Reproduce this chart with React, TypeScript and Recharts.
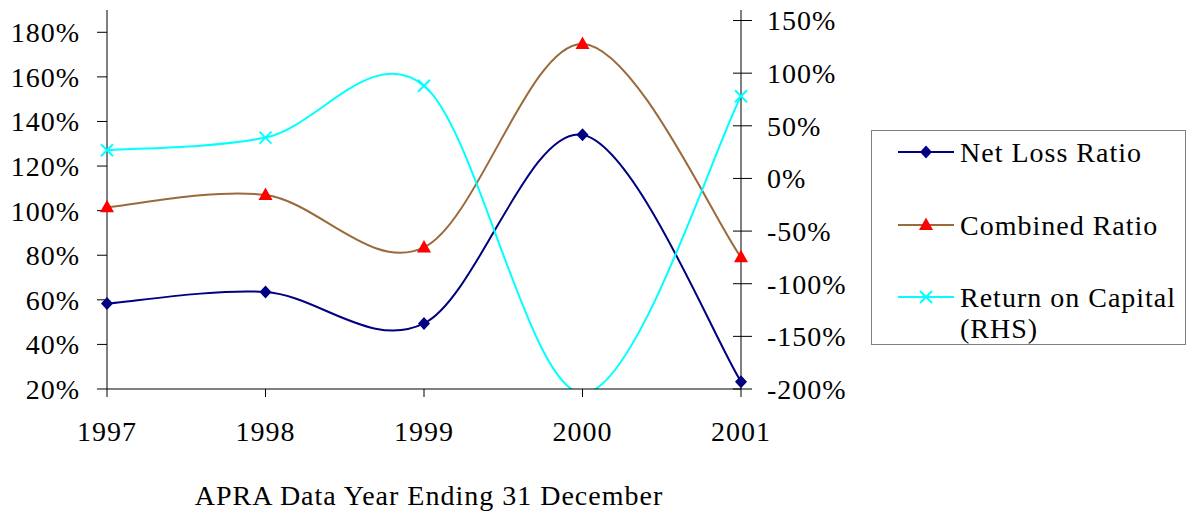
import React from "react";
import { LineChart, Line, XAxis, YAxis, Legend } from "recharts";

const years = ["1997", "1998", "1999", "2000", "2001"];
// left axis, % of premium
const netLossRatio = [58.3, 63.5, 49.4, 134.0, 23.3];
const combinedRatio = [101.5, 107.0, 83.5, 174.8, 79.1];
// right axis, %
const returnOnCapital = [26.8, 38.8, 88.1, -204, 78.0];

const leftTicks = [20, 40, 60, 80, 100, 120, 140, 160, 180];
const rightTicks = [-200, -150, -100, -50, 0, 50, 100, 150];

const data = years.map((year, i) => ({
  year,
  netLoss: netLossRatio[i],
  combined: combinedRatio[i],
  roc: returnOnCapital[i],
}));

const FONT = '"Liberation Serif", "Times New Roman", serif';
const NAVY = "#000080";
const BROWN = "#9B6A3C";
const CYAN = "#00FFFF";
const RED = "#FF0000";

// Catmull-Rom style smoothing, close to what spreadsheet "smoothed lines" do
const smoothCurve = (context: any) => {
  let pts: [number, number][] = [];
  return {
    areaStart() {},
    areaEnd() {},
    lineStart() {
      pts = [];
    },
    point(x: number, y: number) {
      pts.push([+x, +y]);
    },
    lineEnd() {
      const n = pts.length;
      if (!n) return;
      context.moveTo(pts[0][0], pts[0][1]);
      for (let i = 0; i < n - 1; i++) {
        const p0 = pts[Math.max(i - 1, 0)];
        const p1 = pts[i];
        const p2 = pts[i + 1];
        const p3 = pts[Math.min(i + 2, n - 1)];
        context.bezierCurveTo(
          p1[0] + (p2[0] - p0[0]) / 6,
          p1[1] + (p2[1] - p0[1]) / 6,
          p2[0] - (p3[0] - p1[0]) / 6,
          p2[1] - (p3[1] - p1[1]) / 6,
          p2[0],
          p2[1]
        );
      }
    },
  };
};

const diamond = (cx: number, cy: number, key?: any) => (
  <path
    key={key}
    d={`M${cx},${cy - 6.5}L${cx + 6},${cy}L${cx},${cy + 6.5}L${cx - 6},${cy}Z`}
    fill={NAVY}
  />
);

const triangle = (cx: number, cy: number, key?: any) => (
  <path
    key={key}
    d={`M${cx},${cy - 7.5}L${cx + 7},${cy + 5}L${cx - 7},${cy + 5}Z`}
    fill={RED}
  />
);

const cross = (cx: number, cy: number, key?: any) => (
  <g key={key} stroke={CYAN} strokeWidth={2}>
    <line x1={cx - 6} y1={cy - 6} x2={cx + 6} y2={cy + 6} />
    <line x1={cx - 6} y1={cy + 6} x2={cx + 6} y2={cy - 6} />
  </g>
);

const RightTick = ({ x, y, payload }: any) => (
  <g>
    <line x1={x - 8} x2={x + 11} y1={y} y2={y} stroke="#000" />
    <text x={x + 26} y={y} dy="0.35em" textAnchor="start" fill="#000" fontSize={28}>
      {`${payload.value}%`}
    </text>
  </g>
);

const legendRows = [
  { label: ["Net Loss Ratio"], color: NAVY, mark: diamond, top: 22 },
  { label: ["Combined Ratio"], color: BROWN, mark: triangle, top: 95 },
  { label: ["Return on Capital", "(RHS)"], color: CYAN, mark: cross, top: 167 },
];

const LegendBox = () => (
  <div
    style={{
      width: 315,
      height: 215,
      boxSizing: "border-box",
      border: "1px solid #808080",
      background: "#fff",
      position: "relative",
      fontFamily: FONT,
      fontSize: 28,
      letterSpacing: "1px",
      color: "#000",
    }}
  >
    {legendRows.map((row) => (
      <React.Fragment key={row.label[0]}>
        <svg
          width={56}
          height={20}
          style={{ position: "absolute", left: 26, top: row.top - 11 }}
        >
          <line x1={0} x2={56} y1={10} y2={10} stroke={row.color} strokeWidth={2} />
          {row.mark(28, 10)}
        </svg>
        {row.label.map((line, j) => (
          <div
            key={line}
            style={{
              position: "absolute",
              left: 88,
              top: row.top - 16 + j * 31,
              lineHeight: "31px",
              whiteSpace: "nowrap",
            }}
          >
            {line}
          </div>
        ))}
      </React.Fragment>
    ))}
  </div>
);

export default function App() {
  return (
    <div
      style={{
        position: "absolute",
        left: 0,
        top: 0,
        background: "#fff",
        fontFamily: FONT,
        letterSpacing: "1px",
      }}
    >
      <LineChart
        width={1188}
        height={513}
        data={data}
        margin={{ top: 10, right: 0, bottom: 0, left: 0 }}
      >
        <XAxis
          dataKey="year"
          interval={0}
          height={124}
          tickSize={8}
          tickMargin={24}
          axisLine={{ stroke: "#000" }}
          tickLine={{ stroke: "#000" }}
          tick={{ fill: "#000", fontSize: 28 }}
          label={{
            value: "APRA Data Year Ending 31 December",
            position: "insideBottom",
            offset: 8,
            dx: 5,
            fill: "#000",
            fontSize: 28,
          }}
        />
        <YAxis
          yAxisId="left"
          orientation="left"
          width={107}
          domain={[20, 190]}
          ticks={leftTicks}
          allowDataOverflow
          tickSize={10}
          tickMargin={17}
          tickFormatter={(v: number) => `${v}%`}
          axisLine={{ stroke: "#000" }}
          tickLine={{ stroke: "#000" }}
          tick={{ fill: "#000", fontSize: 28 }}
        />
        <YAxis
          yAxisId="right"
          orientation="right"
          width={447}
          domain={[-200, 160]}
          ticks={rightTicks}
          allowDataOverflow
          tickSize={0}
          tickMargin={0}
          tickLine={false}
          axisLine={{ stroke: "#000" }}
          tick={<RightTick />}
        />
        <Legend
          layout="horizontal"
          verticalAlign="middle"
          align="center"
          wrapperStyle={{ left: 871, top: 130, width: 315, height: 215 }}
          content={() => <LegendBox />}
        />
        <Line
          yAxisId="left"
          dataKey="netLoss"
          name="Net Loss Ratio"
          type={smoothCurve as any}
          stroke={NAVY}
          strokeWidth={2}
          dot={(p: any) => diamond(p.cx, p.cy, p.index)}
          activeDot={false}
          isAnimationActive={false}
        />
        <Line
          yAxisId="left"
          dataKey="combined"
          name="Combined Ratio"
          type={smoothCurve as any}
          stroke={BROWN}
          strokeWidth={2}
          dot={(p: any) => triangle(p.cx, p.cy, p.index)}
          activeDot={false}
          isAnimationActive={false}
        />
        <Line
          yAxisId="right"
          dataKey="roc"
          name="Return on Capital (RHS)"
          type={smoothCurve as any}
          stroke={CYAN}
          strokeWidth={2}
          dot={(p: any) =>
            p.value < -200 ? <g key={p.index} /> : cross(p.cx, p.cy, p.index)
          }
          activeDot={false}
          isAnimationActive={false}
        />
      </LineChart>
    </div>
  );
}
